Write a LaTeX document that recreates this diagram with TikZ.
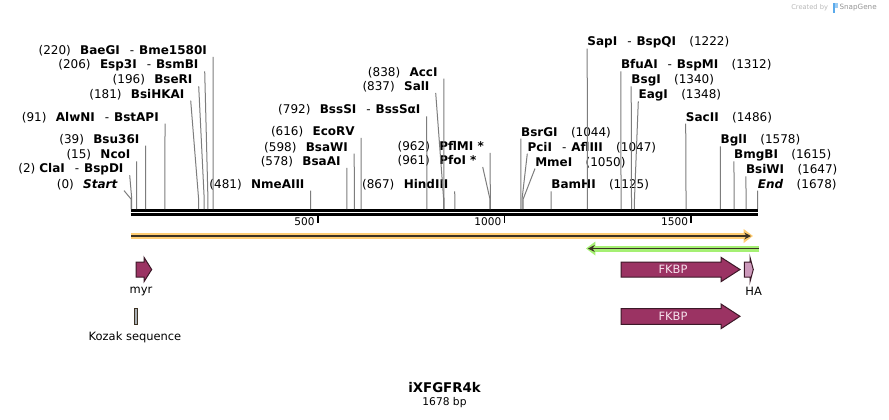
\documentclass[tikz,border=0pt]{standalone}
\usepackage{fontspec}
\setmainfont{DejaVu Sans}
\usepackage{xcolor}
\usepackage{tikz}
\usetikzlibrary{arrows.meta,positioning}

\definecolor{cutgray}{RGB}{125,125,125}
\definecolor{featred}{RGB}{155,51,99}
\definecolor{featedge}{RGB}{60,25,40}
\definecolor{hapink}{RGB}{204,153,187}
\definecolor{kozakgray}{RGB}{168,174,180}
\definecolor{fkbptext}{RGB}{245,225,236}
\definecolor{orfglow}{RGB}{255,205,115}
\definecolor{primglow}{RGB}{165,240,115}
\definecolor{darkline}{RGB}{60,50,35}
\definecolor{credit}{RGB}{185,185,185}
\definecolor{snapblue}{RGB}{90,170,235}

\newcommand{\labelfont}{\fontsize{9}{10.5}\selectfont}
\newcommand{\numgap}{\hspace{7pt}}
\newcommand{\numgapR}{\hspace{10pt}}
\newcommand{\isodash}{\hspace{7.5pt}-\hspace{3.7pt}}

\begin{document}
\begin{tikzpicture}[x=0.75pt,y=-0.75pt,
  lblL/.style={anchor=east,inner xsep=4.5pt,inner ysep=0pt,minimum height=9pt,font=\labelfont},
  lblR/.style={anchor=west,inner xsep=0pt,inner ysep=0pt,minimum height=9pt,font=\labelfont},
  cut/.style={draw=cutgray,line width=0.75pt},
  feat/.style={fill=featred,draw=featedge,line width=0.75pt},
  featlbl/.style={font=\fontsize{8.6}{10}\selectfont,inner sep=0pt}]
  \useasboundingbox (0,0) rectangle (889,419);
  \fill[white] (0,0) rectangle (889,419);

  % cut sites on the sequence
  \foreach \bp in {0,2,15,39,91,181,196,206,220,481,578,598,616,792,837,838,867,961,962,
                   1044,1047,1050,1125,1222,1312,1340,1348,1486,1578,1615,1647,1678}
    \coordinate (k\bp) at (131+0.3735*\bp,199);
  \coordinate (base) at (0,209);

  % backbone and ruler
  \draw[line width=2.25pt] (130.5,210) -- (758.3,210);
  \draw[line width=1.9pt] (130.5,214.5) -- (758.3,214.5);
  \foreach \t in {500,1000,1500}{
    \draw[line width=1.4pt] (131+0.3735*\t,215) -- ++(0,8);
    \node[anchor=east,inner sep=0pt,font=\fontsize{7.9}{9}\selectfont] (t\t) at (131+0.3735*\t-3,222) {\t};
  }

  % left-hand enzymes
  \node[lblL] (baegi)   at (213.1,50.7)  {(220)\numgap\textbf{BaeGI}\isodash\textbf{Bme1580I}};
  \node[lblL] (esp3i)   at (204.7,65)    {(206)\numgap\textbf{Esp3I}\isodash\textbf{BsmBI}};
  \node[lblL] (bseri)   at (198.7,80)    {(196)\numgap\textbf{BseRI}};
  \node[lblL] (bsihkai) at (190.7,94.3)  {(181)\numgap\textbf{BsiHKAI}};
  \node[lblL] (alwni)   at (165,117.3)   {(91)\numgap\textbf{AlwNI}\isodash\textbf{BstAPI}};
  \node[lblL] (bsu36i)  at (145.6,139.3) {(39)\numgap\textbf{Bsu36I}};
  \node[lblL] (ncoi)    at (136.6,155)   {(15)\numgap\textbf{NcoI}};
  \node[lblL] (clai)    at (129.7,169)   {(2)\hspace{3pt}\textbf{ClaI}\isodash\textbf{BspDI}};
  \node[lblL] (start)   at (124,184.3)   {(0)\numgap\textbf{\textit{Start}}};
  \node[lblL] (nmeaiii) at (310.7,184.3) {(481)\numgap\textbf{NmeAIII}};
  \node[lblL] (bsaai)   at (346.8,161.7) {(578)\numgap\textbf{BsaAI}};
  \node[lblL] (bsawi)   at (354.2,147.3) {(598)\numgap\textbf{BsaWI}};
  \node[lblL] (ecorv)   at (361,131.7)   {(616)\numgap\textbf{EcoRV}};
  \node[lblL] (bsssi)   at (426.7,110)   {(792)\numgap\textbf{BssSI}\isodash\textbf{BssSαI}};
  \node[lblL] (acci)    at (443.8,72.3)  {(838)\numgap\textbf{AccI}};
  \node[lblL] (sali)    at (435.7,86.7)  {(837)\numgap\textbf{SalI}};
  \node[lblL] (hindiii) at (454.7,185)   {(867)\numgap\textbf{HindIII}};
  \node[lblL] (pflmi)   at (490.1,146.7) {(962)\numgap\textbf{PflMI *}};
  \node[lblL] (pfoi)    at (482.7,160.7) {(961)\numgap\textbf{PfoI *}};

  % right-hand enzymes
  \node[lblR] (sapi)  at (587.2,42.3)  {\textbf{SapI}\isodash\textbf{BspQI}\numgapR(1222)};
  \node[lblR] (bfuai) at (620.8,65)    {\textbf{BfuAI}\isodash\textbf{BspMI}\numgapR(1312)};
  \node[lblR] (bsgi)  at (631.2,80)    {\textbf{BsgI}\numgapR(1340)};
  \node[lblR] (eagi)  at (638.3,95)    {\textbf{EagI}\numgapR(1348)};
  \node[lblR] (sacii) at (685.7,117.3) {\textbf{SacII}\numgapR(1486)};
  \node[lblR] (bgli)  at (720.4,140)   {\textbf{BglI}\numgapR(1578)};
  \node[lblR] (bmgbi) at (733.9,155)   {\textbf{BmgBI}\numgapR(1615)};
  \node[lblR] (bsiwi) at (745.8,170)   {\textbf{BsiWI}\numgapR(1647)};
  \node[lblR] (end)   at (757.7,184.3) {\textbf{\textit{End}}\numgapR(1678)};
  \node[lblR] (bsrgi) at (520.9,132.3) {\textbf{BsrGI}\numgapR(1044)};
  \node[lblR] (pcii)  at (527.3,147.3) {\textbf{PciI}\isodash\textbf{AflIII}\numgapR(1047)};
  \node[lblR] (mmei)  at (535,162.3)   {\textbf{MmeI}\numgapR(1050)};
  \node[lblR] (bamhi) at (551.2,185)   {\textbf{BamHI}\numgapR(1125)};

  \foreach \n/\bp in {baegi/220,esp3i/206,bseri/196,bsihkai/181,alwni/91,bsu36i/39,ncoi/15,
                      clai/2,start/0,nmeaiii/481,bsaai/578,bsawi/598,ecorv/616,bsssi/792,
                      acci/838,sali/837,hindiii/867,pflmi/962,pfoi/961}
    \draw[cut] (\n.south east) -- (k\bp) -- (k\bp |- base);
  \foreach \n/\bp in {sapi/1222,bfuai/1312,bsgi/1340,eagi/1348,sacii/1486,bgli/1578,bmgbi/1615,
                      bsiwi/1647,end/1678,bsrgi/1044,pcii/1047,mmei/1050,bamhi/1125}
    \draw[cut] (\n.south west) -- (k\bp) -- (k\bp |- base);

  % orf and primer
  \draw[orfglow,line width=4.5pt,-{Triangle[length=7pt,width=10pt]}] (130.5,236) -- (753,236);
  \draw[darkline,line width=1.3pt,-{Stealth[length=5pt,width=5pt]}] (131,236) -- (751,236);
  \draw[primglow,line width=4.5pt,-{Triangle[length=7pt,width=10pt]}] (759.3,248.5) -- (586,248.5);
  \draw[darkline,line width=1.3pt,-{Stealth[length=5pt,width=5pt]}] (758.5,248.5) -- (588,248.5);

  % features
  \filldraw[feat] (136,262) -- (144,262) -- (144,257.3) -- (151.7,269.5) -- (144,281.7) -- (144,277) -- (136,277) -- cycle;
  \node[featlbl] (myr) at (141,291) {myr};
  \filldraw[feat] (621,262) -- (721,262) -- (721,257.3) -- (740,269.5) -- (721,281.7) -- (721,277) -- (621,277) -- cycle;
  \node[featlbl,text=fkbptext] (fkbp) at (673,269.5) {FKBP};
  \filldraw[feat,fill=hapink] (744.3,262) -- (750,262) -- (750,257.3) -- (753.3,269.5) -- (750,281.7) -- (750,277) -- (744.3,277) -- cycle;
  \node[featlbl] (ha) at (753.7,291) {HA};
  \filldraw[fill=kozakgray,draw=darkline,line width=0.75pt] (134.3,308.3) rectangle (137.7,324);
  \node[featlbl] (kozak) at (135,337.3) {Kozak sequence};
  \filldraw[feat] (621,308.7) -- (721,308.7) -- (721,304) -- (740,316.3) -- (721,328.7) -- (721,324.3) -- (621,324.3) -- cycle;
  \node[featlbl,text=fkbptext] (fkbp2) at (673,316.3) {FKBP};

  % title
  \node[font=\bfseries\fontsize{10}{12}\selectfont,inner sep=0pt] (title) at (444.5,387.3) {iXFGFR4k};
  \node[font=\fontsize{8}{10}\selectfont,inner sep=0pt,below=3.5pt of title] (len) {1678 bp};

  % credit
  \node[anchor=west,inner sep=0pt,text=credit,font=\fontsize{5}{6}\selectfont] (created) at (791,7.3) {Created by};
  \fill[snapblue] (832.5,3) rectangle (835,12.5);
  \fill[snapblue!60] (835,3) rectangle (837.5,8);
  \node[anchor=west,inner sep=0pt,text=credit!80!black,font=\fontsize{5.4}{6}\selectfont] (snapgene) at (839.3,7.3) {SnapGene};
\end{tikzpicture}
\end{document}
